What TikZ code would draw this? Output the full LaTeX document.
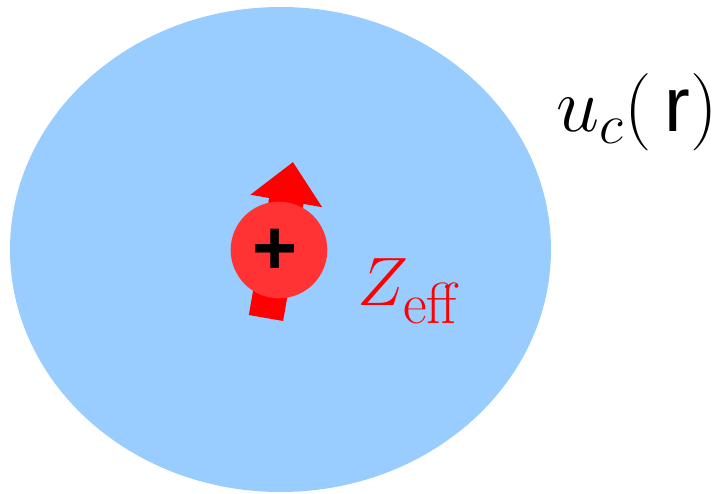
\RequirePackage{fix-cm}
\documentclass[tikz,border=0pt]{standalone}
\usepackage{amsmath, amssymb}
\usepackage{fontspec}
\newfontfamily\arialfont{Liberation Sans}
\usepackage{tikz}
\usepackage{xcolor}
\usetikzlibrary{arrows.meta, positioning, calc}
\DeclareMathSizes{39}{39}{33}{24}
\DeclareMathSizes{44}{44}{32}{24}
\definecolor{cloudBlue}{HTML}{99CCFF}
\definecolor{coreRed}{HTML}{FF3333}
\tikzset{
    cloud/.style={fill=cloudBlue, draw=none},
    coreNode/.style={circle, fill=coreRed, draw=none, inner sep=0pt, minimum size=55pt},
    spinArrow/.style={-{Triangle[width=40pt, length=22.5pt]}, line width=19.8pt, draw=red}
}

\begin{document}
\begin{tikzpicture}[x=0.02cm, y=0.02cm]
    \useasboundingbox (0,0) rectangle (718,494);
    % --- electron cloud ---
    \fill[cloud] (280.5,244.5) ellipse [x radius=270.5, y radius=242.5];
    \node[font=\fontsize{44}{52}\selectfont, anchor=base west, inner sep=0pt] (uc) at (556,362)
        {$u_c(\,\text{\arialfont r})$};
    % --- core with spin ---
    \coordinate (tail) at (266,176);
    \coordinate (tip) at (293,332);
    \draw[spinArrow] (tail) -- (tip);
    \node[coreNode] (core) at (279,244) {};
    \node[font=\arialfont\bfseries\fontsize{44}{52}\selectfont, inner sep=0pt] (plus) at (275,242) {+};
    \node[font=\fontsize{39}{47}\selectfont, text=red, anchor=base west, inner sep=0pt] (zeff) at (357,188)
        {$Z_{\text{eff}}$};
\end{tikzpicture}
\end{document}
